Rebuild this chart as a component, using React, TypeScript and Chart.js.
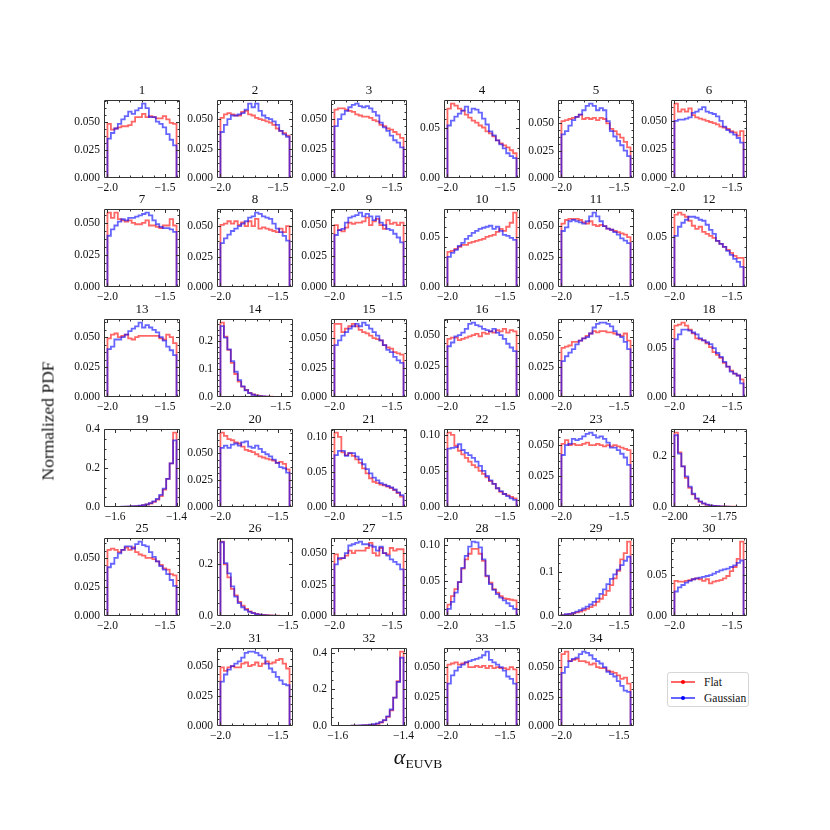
import React, { useEffect, useRef } from "react";
import { Chart, registerables } from "chart.js";
Chart.register(...registerables);

// ---------- bin ranges (alpha_EUVB) ----------
const RANGE_STD = [-2.0, -1.4];
const RANGE_14 = [-2.0, -1.427];
const RANGE_26 = [-2.0, -1.49];
const RANGE_24 = [-2.0, -1.65];
const RANGE_19 = [-1.625, -1.4];
const RANGE_32 = [-1.61, -1.4];

// ---------- tick values ----------
const XT_STD = [-2.0, -1.5];
const XT_HI = [-1.6, -1.4];
const XT_24 = [-2.0, -1.75];
const YT_A = [0, 0.025, 0.05];
const YT_B = [0, 0.05];
const YT_C = [0, 0.05, 0.1];
const YT_D = [0, 0.1, 0.2];
const YT_E = [0, 0.2, 0.4];
const YT_F = [0, 0.2];
const YT_G = [0, 0.1];

const LEGEND_LABELS = ["Flat", "Gaussian"];

// ---------- histogram values (20 bins each) ----------
const flat1 = [0.048,0.043,0.044,0.045,0.046,0.046,0.047,0.050,0.054,0.054,0.057,0.054,0.055,0.054,0.053,0.053,0.055,0.052,0.049,0.048];
const gauss1 = [0.035,0.040,0.044,0.048,0.052,0.055,0.059,0.057,0.060,0.062,0.066,0.062,0.054,0.054,0.050,0.048,0.045,0.039,0.034,0.029];
const flat2 = [0.051,0.054,0.055,0.054,0.053,0.053,0.056,0.057,0.054,0.053,0.051,0.050,0.049,0.048,0.047,0.045,0.042,0.040,0.038,0.036];
const gauss2 = [0.039,0.045,0.050,0.053,0.053,0.054,0.055,0.058,0.063,0.060,0.063,0.057,0.053,0.051,0.050,0.048,0.045,0.040,0.037,0.035];
const flat3 = [0.058,0.059,0.059,0.058,0.057,0.056,0.054,0.053,0.052,0.052,0.051,0.049,0.048,0.045,0.044,0.042,0.041,0.039,0.037,0.034];
const gauss3 = [0.044,0.050,0.054,0.057,0.060,0.062,0.063,0.061,0.060,0.061,0.059,0.056,0.053,0.047,0.043,0.040,0.036,0.032,0.030,0.026];
const flat4 = [0.070,0.075,0.073,0.070,0.068,0.064,0.061,0.058,0.056,0.053,0.051,0.047,0.045,0.042,0.038,0.035,0.033,0.031,0.028,0.025];
const gauss4 = [0.053,0.058,0.062,0.065,0.068,0.072,0.066,0.070,0.069,0.066,0.060,0.054,0.047,0.043,0.038,0.034,0.030,0.025,0.022,0.020];
const flat5 = [0.052,0.053,0.054,0.055,0.056,0.058,0.054,0.055,0.054,0.055,0.053,0.055,0.054,0.050,0.045,0.043,0.040,0.037,0.033,0.028];
const gauss5 = [0.040,0.043,0.048,0.053,0.056,0.058,0.062,0.066,0.068,0.066,0.062,0.064,0.062,0.052,0.043,0.038,0.034,0.030,0.025,0.020];
const flat6 = [0.065,0.058,0.060,0.058,0.061,0.055,0.053,0.052,0.051,0.050,0.049,0.048,0.047,0.045,0.044,0.043,0.041,0.040,0.037,0.041];
const gauss6 = [0.050,0.051,0.051,0.052,0.053,0.057,0.058,0.060,0.062,0.058,0.057,0.056,0.054,0.050,0.045,0.042,0.040,0.038,0.035,0.031];
const flat7 = [0.058,0.054,0.058,0.053,0.052,0.051,0.052,0.050,0.049,0.049,0.050,0.052,0.048,0.048,0.047,0.046,0.048,0.048,0.053,0.048];
const gauss7 = [0.040,0.045,0.048,0.051,0.053,0.052,0.054,0.054,0.055,0.056,0.057,0.058,0.056,0.052,0.049,0.047,0.046,0.046,0.045,0.043];
const flat8 = [0.051,0.052,0.054,0.052,0.054,0.051,0.053,0.050,0.054,0.050,0.056,0.048,0.049,0.048,0.047,0.046,0.045,0.048,0.045,0.050];
const gauss8 = [0.036,0.040,0.043,0.046,0.048,0.050,0.052,0.054,0.057,0.058,0.061,0.060,0.058,0.057,0.056,0.052,0.048,0.045,0.042,0.038];
const flat9 = [0.050,0.046,0.045,0.048,0.052,0.051,0.052,0.052,0.053,0.056,0.050,0.053,0.055,0.050,0.047,0.054,0.051,0.052,0.050,0.052];
const gauss9 = [0.042,0.046,0.047,0.052,0.056,0.057,0.058,0.060,0.057,0.059,0.057,0.054,0.057,0.052,0.050,0.047,0.046,0.043,0.040,0.036];
const flat10 = [0.035,0.036,0.038,0.040,0.042,0.042,0.044,0.045,0.046,0.047,0.048,0.050,0.051,0.052,0.055,0.058,0.056,0.060,0.064,0.074];
const gauss10 = [0.030,0.034,0.037,0.041,0.044,0.048,0.051,0.054,0.056,0.058,0.059,0.060,0.061,0.058,0.060,0.056,0.052,0.051,0.049,0.047];
const flat11 = [0.052,0.055,0.056,0.056,0.056,0.055,0.053,0.052,0.054,0.051,0.050,0.051,0.050,0.048,0.047,0.046,0.045,0.044,0.043,0.041];
const gauss11 = [0.046,0.049,0.054,0.055,0.054,0.053,0.052,0.054,0.058,0.061,0.058,0.054,0.050,0.048,0.047,0.045,0.043,0.040,0.038,0.036];
const flat12 = [0.072,0.074,0.072,0.070,0.066,0.061,0.058,0.060,0.055,0.053,0.051,0.049,0.046,0.043,0.040,0.037,0.034,0.031,0.029,0.029];
const gauss12 = [0.051,0.060,0.064,0.067,0.070,0.070,0.069,0.067,0.066,0.062,0.057,0.053,0.046,0.043,0.040,0.036,0.032,0.028,0.025,0.020];
const flat13 = [0.049,0.052,0.053,0.050,0.051,0.052,0.049,0.048,0.050,0.051,0.051,0.051,0.051,0.051,0.051,0.049,0.048,0.052,0.050,0.045];
const gauss13 = [0.040,0.042,0.048,0.048,0.050,0.052,0.055,0.057,0.059,0.062,0.058,0.060,0.058,0.056,0.054,0.050,0.047,0.042,0.039,0.035];
const flat14 = [0.265,0.215,0.168,0.122,0.082,0.055,0.037,0.025,0.015,0.009,0.006,0.004,0.0025,0.0015,0.001,0.0007,0.0005,0.0003,0.0002,0.0001];
const gauss14 = [0.253,0.212,0.170,0.128,0.090,0.060,0.038,0.024,0.014,0.008,0.005,0.003,0.002,0.001,0.0007,0.0005,0.0003,0.0002,0.0001,0.0001];
const flat15 = [0.062,0.062,0.055,0.058,0.060,0.062,0.060,0.057,0.055,0.054,0.052,0.050,0.049,0.048,0.044,0.042,0.041,0.038,0.037,0.036];
const gauss15 = [0.044,0.048,0.052,0.055,0.058,0.060,0.062,0.060,0.063,0.061,0.058,0.055,0.052,0.048,0.044,0.040,0.038,0.034,0.031,0.029];
const flat16 = [0.047,0.048,0.048,0.046,0.047,0.048,0.049,0.050,0.051,0.049,0.052,0.051,0.053,0.052,0.054,0.053,0.055,0.052,0.054,0.053];
const gauss16 = [0.041,0.044,0.049,0.050,0.052,0.055,0.059,0.060,0.058,0.057,0.055,0.054,0.053,0.055,0.052,0.050,0.047,0.043,0.040,0.037];
const flat17 = [0.041,0.042,0.043,0.046,0.046,0.047,0.049,0.051,0.053,0.055,0.054,0.055,0.055,0.054,0.054,0.053,0.052,0.051,0.053,0.047];
const gauss17 = [0.030,0.034,0.037,0.040,0.044,0.047,0.049,0.050,0.053,0.058,0.061,0.062,0.062,0.061,0.059,0.055,0.052,0.050,0.046,0.040];
const flat18 = [0.073,0.074,0.076,0.073,0.069,0.065,0.060,0.059,0.058,0.055,0.051,0.046,0.043,0.040,0.035,0.031,0.027,0.024,0.022,0.018];
const gauss18 = [0.059,0.064,0.069,0.069,0.068,0.066,0.064,0.060,0.058,0.056,0.054,0.050,0.045,0.041,0.036,0.031,0.026,0.024,0.022,0.014];
const flat19 = [0.0005,0.0005,0.001,0.001,0.001,0.002,0.002,0.003,0.004,0.006,0.009,0.013,0.018,0.026,0.038,0.056,0.090,0.145,0.225,0.383];
const gauss19 = [0.0003,0.0005,0.0008,0.001,0.0015,0.002,0.003,0.004,0.005,0.007,0.010,0.014,0.020,0.029,0.042,0.062,0.095,0.145,0.225,0.344];
const flat20 = [0.069,0.066,0.063,0.062,0.060,0.059,0.056,0.053,0.052,0.051,0.049,0.047,0.046,0.045,0.044,0.043,0.041,0.042,0.040,0.035];
const gauss20 = [0.055,0.057,0.055,0.058,0.059,0.057,0.060,0.061,0.056,0.055,0.057,0.054,0.051,0.049,0.047,0.044,0.041,0.037,0.036,0.032];
const flat21 = [0.106,0.100,0.078,0.074,0.077,0.073,0.068,0.063,0.055,0.048,0.041,0.036,0.034,0.032,0.031,0.029,0.027,0.024,0.020,0.015];
const gauss21 = [0.074,0.080,0.080,0.073,0.077,0.077,0.072,0.068,0.061,0.054,0.048,0.042,0.038,0.034,0.032,0.030,0.028,0.025,0.021,0.017];
const flat22 = [0.103,0.100,0.085,0.078,0.073,0.068,0.063,0.058,0.055,0.050,0.046,0.041,0.036,0.032,0.026,0.021,0.018,0.016,0.014,0.012];
const gauss22 = [0.081,0.082,0.083,0.087,0.079,0.075,0.072,0.068,0.063,0.057,0.050,0.043,0.037,0.032,0.026,0.022,0.018,0.015,0.012,0.010];
const flat23 = [0.051,0.054,0.050,0.051,0.050,0.050,0.051,0.052,0.050,0.050,0.051,0.050,0.049,0.050,0.049,0.050,0.049,0.048,0.047,0.046];
const gauss23 = [0.042,0.050,0.051,0.055,0.054,0.055,0.057,0.059,0.060,0.058,0.056,0.057,0.055,0.052,0.048,0.048,0.046,0.043,0.040,0.034];
const flat24 = [0.292,0.215,0.160,0.115,0.075,0.050,0.032,0.020,0.013,0.008,0.005,0.004,0.003,0.002,0.002,0.001,0.001,0.001,0.0005,0.0005];
const gauss24 = [0.282,0.210,0.160,0.120,0.080,0.052,0.034,0.022,0.014,0.009,0.006,0.004,0.003,0.002,0.001,0.001,0.0005,0.0005,0.0003,0.0002];
const flat25 = [0.057,0.058,0.057,0.055,0.057,0.059,0.057,0.059,0.055,0.053,0.052,0.050,0.050,0.049,0.047,0.044,0.041,0.040,0.036,0.035];
const gauss25 = [0.042,0.045,0.050,0.054,0.057,0.060,0.060,0.058,0.062,0.064,0.061,0.060,0.055,0.051,0.047,0.043,0.040,0.036,0.031,0.026];
const flat26 = [0.288,0.200,0.150,0.105,0.080,0.055,0.040,0.028,0.018,0.012,0.008,0.005,0.004,0.003,0.002,0.001,0.001,0.0005,0.0003,0.0002];
const gauss26 = [0.286,0.205,0.165,0.115,0.075,0.050,0.034,0.024,0.016,0.011,0.007,0.005,0.003,0.002,0.001,0.001,0.0005,0.0003,0.0001,0.0001];
const flat27 = [0.049,0.045,0.046,0.048,0.052,0.050,0.052,0.052,0.052,0.054,0.058,0.050,0.048,0.054,0.050,0.049,0.054,0.052,0.053,0.053];
const gauss27 = [0.041,0.046,0.046,0.050,0.056,0.057,0.058,0.059,0.057,0.057,0.056,0.055,0.052,0.055,0.050,0.048,0.045,0.043,0.041,0.037];
const flat28 = [0.016,0.028,0.038,0.048,0.067,0.080,0.088,0.095,0.095,0.088,0.078,0.056,0.047,0.038,0.033,0.028,0.025,0.024,0.023,0.022];
const gauss28 = [0.010,0.020,0.033,0.048,0.068,0.085,0.098,0.105,0.104,0.097,0.080,0.057,0.045,0.037,0.031,0.026,0.022,0.018,0.014,0.010];
const flat29 = [0.002,0.003,0.004,0.006,0.008,0.010,0.013,0.016,0.020,0.024,0.032,0.039,0.047,0.057,0.070,0.085,0.102,0.128,0.142,0.168];
const gauss29 = [0.002,0.004,0.005,0.007,0.010,0.013,0.017,0.021,0.026,0.032,0.040,0.050,0.060,0.072,0.084,0.094,0.105,0.115,0.125,0.134];
const flat30 = [0.043,0.042,0.042,0.043,0.044,0.045,0.046,0.045,0.043,0.045,0.040,0.042,0.043,0.044,0.046,0.049,0.055,0.060,0.070,0.091];
const gauss30 = [0.030,0.035,0.038,0.041,0.043,0.045,0.046,0.047,0.048,0.049,0.050,0.052,0.054,0.056,0.057,0.058,0.060,0.062,0.065,0.068];
const flat31 = [0.049,0.046,0.049,0.050,0.049,0.049,0.052,0.053,0.050,0.051,0.053,0.050,0.052,0.054,0.052,0.053,0.055,0.056,0.052,0.048];
const gauss31 = [0.037,0.043,0.047,0.050,0.052,0.054,0.057,0.061,0.062,0.062,0.061,0.059,0.057,0.052,0.048,0.045,0.041,0.038,0.035,0.034];
const flat32 = [0.0003,0.0004,0.0006,0.0008,0.001,0.0013,0.0017,0.0023,0.003,0.004,0.006,0.008,0.012,0.019,0.031,0.050,0.085,0.155,0.245,0.405];
const gauss32 = [0.0002,0.0004,0.0006,0.0008,0.001,0.0015,0.002,0.003,0.004,0.005,0.007,0.010,0.014,0.021,0.032,0.052,0.090,0.155,0.240,0.372];
const flat33 = [0.052,0.053,0.054,0.052,0.053,0.054,0.050,0.050,0.051,0.050,0.051,0.049,0.051,0.049,0.050,0.049,0.049,0.048,0.050,0.048];
const gauss33 = [0.036,0.043,0.047,0.050,0.052,0.054,0.055,0.056,0.057,0.058,0.060,0.063,0.056,0.054,0.052,0.050,0.047,0.042,0.040,0.036];
const flat34 = [0.061,0.063,0.055,0.056,0.057,0.055,0.055,0.054,0.052,0.053,0.050,0.049,0.049,0.047,0.046,0.045,0.043,0.040,0.041,0.036];
const gauss34 = [0.045,0.050,0.055,0.057,0.058,0.061,0.063,0.062,0.060,0.057,0.055,0.053,0.050,0.046,0.044,0.042,0.038,0.034,0.030,0.029];

// ---------- panel table (built from the arrays above) ----------
const FLATS = [flat1,flat2,flat3,flat4,flat5,flat6,flat7,flat8,flat9,flat10,flat11,flat12,flat13,flat14,flat15,flat16,flat17,flat18,flat19,flat20,flat21,flat22,flat23,flat24,flat25,flat26,flat27,flat28,flat29,flat30,flat31,flat32,flat33,flat34];
const GAUSS = [gauss1,gauss2,gauss3,gauss4,gauss5,gauss6,gauss7,gauss8,gauss9,gauss10,gauss11,gauss12,gauss13,gauss14,gauss15,gauss16,gauss17,gauss18,gauss19,gauss20,gauss21,gauss22,gauss23,gauss24,gauss25,gauss26,gauss27,gauss28,gauss29,gauss30,gauss31,gauss32,gauss33,gauss34];
const RANGES: Record<number, number[]> = { 14: RANGE_14, 19: RANGE_19, 24: RANGE_24, 26: RANGE_26, 32: RANGE_32 };
const XTICKS: Record<number, number[]> = { 19: XT_HI, 24: XT_24, 32: XT_HI };
const YTICKS: Record<number, number[]> = {
  4: YT_B, 10: YT_B, 12: YT_B, 18: YT_B, 30: YT_B,
  14: YT_D, 19: YT_E, 32: YT_E, 21: YT_C, 22: YT_C, 28: YT_C,
  24: YT_F, 26: YT_F, 29: YT_G,
};

// ---------- layout ----------
const FONT = "'Liberation Serif', 'Times New Roman', serif";
const BOX_W = 76, BOX_H = 78;
const PADL = 46, PADR = 16, PADT = 17, PADB = 18;
const colLeft = (c: number) => Math.round(103.75 + 113.53 * c);
const rowTop = (r: number) => Math.round(99.6 + 109.7 * r);

function stepDec(step: number) {
  if (step >= 0.1 - 1e-9 && Math.abs(step * 10 - Math.round(step * 10)) < 1e-9) return 1;
  if (Math.abs(step * 100 - Math.round(step * 100)) < 1e-9) return 2;
  return 3;
}
function minorStep(step: number) {
  const exp = Math.floor(Math.log10(step) + 1e-9);
  const mant = Math.round((step / Math.pow(10, exp)) * 100) / 100;
  const nd = mant === 1 || mant === 5 || mant === 10 ? 5 : 4;
  return step / nd;
}
function fmt(v: number, dec: number) {
  const s = Math.abs(v).toFixed(dec);
  return v < -1e-12 ? "\u2212" + s : s;
}
function stepPoints(vals: number[], lo: number, hi: number) {
  const n = vals.length;
  const w = (hi - lo) / n;
  const pts = [{ x: lo, y: 0 }];
  vals.forEach((v, i) => pts.push({ x: lo + i * w, y: v }));
  pts.push({ x: hi, y: vals[n - 1] });
  pts.push({ x: hi, y: 0 });
  return pts;
}

const framePlugin = {
  id: "frame",
  afterDatasetsDraw(chart: any, _a: any, opts: any) {
    const { ctx, chartArea: a } = chart;
    const xs = chart.scales.x, ys = chart.scales.y;
    const L = a.left + 0.5, R = a.right - 0.5, T = a.top + 0.5, B = a.bottom - 0.5;
    ctx.save();
    ctx.strokeStyle = "#333";
    ctx.lineWidth = 1;
    ctx.beginPath();
    const MAJ = 3.5, MIN = 2;
    const tx = (v: number, len: number) => {
      const p = Math.round(xs.getPixelForValue(v)) + 0.5;
      if (p < L || p > R) return;
      ctx.moveTo(p, B); ctx.lineTo(p, B - len);
      ctx.moveTo(p, T); ctx.lineTo(p, T + len);
    };
    const ty = (v: number, len: number) => {
      const p = Math.round(ys.getPixelForValue(v)) + 0.5;
      if (p < T || p > B) return;
      ctx.moveTo(L, p); ctx.lineTo(L + len, p);
      ctx.moveTo(R, p); ctx.lineTo(R - len, p);
    };
    const minors = (lo: number, hi: number, st: number, majors: number[]) => {
      const out: number[] = [];
      for (let k = Math.ceil(lo / st - 1e-9); k <= Math.floor(hi / st + 1e-9); k++) {
        const v = k * st;
        if (!majors.some((m) => Math.abs(m - v) < st * 1e-3)) out.push(v);
      }
      return out;
    };
    const xm = xs.ticks.map((t: any) => t.value);
    const ym = ys.ticks.map((t: any) => t.value);
    xm.forEach((v: number) => tx(v, MAJ));
    ym.forEach((v: number) => ty(v, MAJ));
    minors(xs.min, xs.max, opts.xMinor, xm).forEach((v) => tx(v, MIN));
    minors(ys.min, ys.max, opts.yMinor, ym).forEach((v) => ty(v, MIN));
    ctx.rect(L, T, R - L, B - T);
    ctx.stroke();
    ctx.restore();
  },
};

function Panel({ id, col, row }: { id: number; col: number; row: number }) {
  const ref = useRef<HTMLCanvasElement>(null);
  const W = PADL + BOX_W + PADR, H = PADT + BOX_H + PADB;
  const left = colLeft(col) - PADL, top = rowTop(row) - PADT;
  useEffect(() => {
    const flat = FLATS[id - 1], gauss = GAUSS[id - 1];
    const [lo, hi] = RANGES[id] || RANGE_STD;
    const xt = XTICKS[id] || XT_STD;
    const yt = YTICKS[id] || YT_A;
    const xStep = xt[1] - xt[0], yStep = yt[1] - yt[0];
    const xDec = stepDec(Math.abs(xStep)), yDec = stepDec(yStep);
    const span = hi - lo;
    const ymax = 1.05 * Math.max(...flat, ...gauss);
    const tickFont = { family: FONT, size: 11.5 };
    const chart = new Chart(ref.current as HTMLCanvasElement, {
      type: "line",
      data: {
        datasets: [
          { label: "Flat", data: stepPoints(flat, lo, hi), borderColor: "rgba(255,0,0,0.6)", borderWidth: 1.8, pointRadius: 0, stepped: true, fill: false, order: 2, borderJoinStyle: "miter", borderCapStyle: "butt" },
          { label: "Gaussian", data: stepPoints(gauss, lo, hi), borderColor: "rgba(0,0,255,0.6)", borderWidth: 1.8, pointRadius: 0, stepped: true, fill: false, order: 1, borderJoinStyle: "miter", borderCapStyle: "butt" },
        ],
      } as any,
      options: {
        animation: false,
        responsive: false,
        devicePixelRatio: 1,
        events: [],
        layout: { padding: { left: 0, right: PADR, top: 0, bottom: 0 } },
        plugins: {
          legend: { display: false },
          tooltip: { enabled: false },
          title: { display: true, fullSize: false, text: String(id), color: "#111", font: { family: FONT, size: 13, weight: "normal", lineHeight: "15px" }, padding: { top: 0, bottom: 2 } },
          frame: { xMinor: minorStep(Math.abs(xStep)), yMinor: minorStep(yStep) },
        } as any,
        scales: {
          x: {
            type: "linear",
            min: lo - 0.05 * span,
            max: hi + 0.05 * span,
            grid: { display: false, drawTicks: false },
            border: { display: false },
            afterBuildTicks: (s: any) => { s.ticks = xt.map((v) => ({ value: v })); },
            afterFit: (s: any) => { s.height = PADB; },
            ticks: { autoSkip: false, maxRotation: 0, minRotation: 0, padding: 3, color: "#111", font: tickFont, callback: (v: any) => fmt(Number(v), xDec) },
          },
          y: {
            type: "linear",
            min: 0,
            max: ymax,
            grid: { display: false, drawTicks: false },
            border: { display: false },
            afterBuildTicks: (s: any) => { s.ticks = yt.map((v) => ({ value: v })); },
            afterFit: (s: any) => { s.width = PADL; },
            ticks: { autoSkip: false, padding: 4, color: "#111", font: tickFont, callback: (v: any) => fmt(Number(v), yDec) },
          },
        },
      } as any,
      plugins: [framePlugin as any],
    });
    return () => chart.destroy();
  }, [id]);
  return (
    <canvas
      ref={ref}
      width={W}
      height={H}
      style={{ position: "absolute", left, top, width: W, height: H }}
    />
  );
}

export default function App() {
  const cells: { id: number; col: number; row: number }[] = [];
  for (let i = 1; i <= 30; i++) cells.push({ id: i, col: (i - 1) % 6, row: Math.floor((i - 1) / 6) });
  for (let i = 31; i <= 34; i++) cells.push({ id: i, col: i - 30, row: 5 });
  const legendColors = [
    { line: "rgba(255,0,0,0.6)", dot: "rgb(255,0,0)" },
    { line: "rgba(0,0,255,0.6)", dot: "rgb(0,0,255)" },
  ];
  return (
    <div style={{ position: "absolute", left: 0, top: 0, width: 830, height: 830, background: "#fff", overflow: "hidden", fontFamily: FONT, color: "#111" }}>
      {cells.map((c) => (
        <Panel key={c.id} id={c.id} col={c.col} row={c.row} />
      ))}
      <div
        style={{ position: "absolute", left: 48, top: 421, transform: "translate(-50%, -50%) rotate(-90deg)", fontSize: 17.5, whiteSpace: "nowrap" }}
      >
        Normalized PDF
      </div>
      <div style={{ position: "absolute", left: 418, top: 757, transform: "translate(-50%, -50%)", whiteSpace: "nowrap" }}>
        <span style={{ fontStyle: "italic", fontSize: 22 }}>α</span>
        <span style={{ fontSize: 13.5, position: "relative", top: 4 }}>EUVB</span>
      </div>
      <div
        style={{ position: "absolute", left: 667, top: 672, width: 82, height: 35, boxSizing: "border-box", border: "1px solid #d6d6d6", borderRadius: 3, background: "#fff", fontSize: 11.5 }}
      >
        {LEGEND_LABELS.map((lab, i) => (
          <div key={lab} style={{ position: "absolute", left: 3, top: 2 + i * 15.5, height: 14, display: "flex", alignItems: "center" }}>
            <div style={{ position: "relative", width: 24, height: 14 }}>
              <div style={{ position: "absolute", left: 0, top: 6, width: 24, height: 2, background: legendColors[i].line }} />
              <div style={{ position: "absolute", left: 10, top: 5, width: 4, height: 4, borderRadius: 2, background: legendColors[i].dot }} />
            </div>
            <span style={{ marginLeft: 9, lineHeight: "14px" }}>{lab}</span>
          </div>
        ))}
      </div>
    </div>
  );
}
